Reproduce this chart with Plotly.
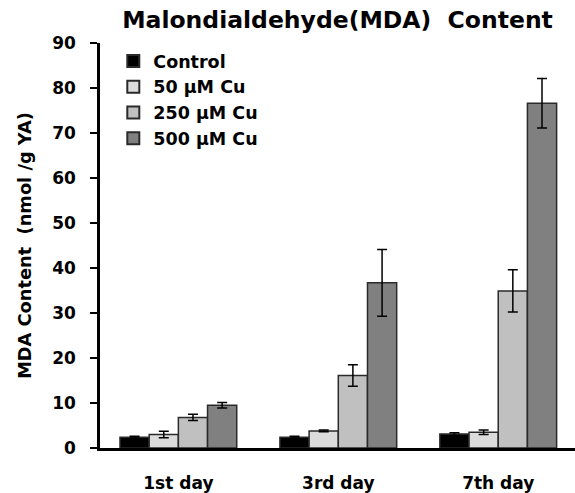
import plotly.graph_objects as go

categories = ["1st day", "3rd day", "7th day"]
series_names = ["Control", "50 µM Cu", "250 µM Cu", "500 µM Cu"]
control = [2.4, 2.4, 3.1]
cu50 = [3.0, 3.8, 3.5]
cu250 = [6.8, 16.1, 34.9]
cu500 = [9.5, 36.7, 76.6]
control_err = [0.2, 0.2, 0.3]
cu50_err = [0.7, 0.2, 0.5]
cu250_err = [0.7, 2.4, 4.7]
cu500_err = [0.6, 7.4, 5.5]
y_ticks = [0, 10, 20, 30, 40, 50, 60, 70, 80, 90]

colors = ["#000000", "#dcdcdc", "#c0c0c0", "#808080"]
values = [control, cu50, cu250, cu500]
errors = [control_err, cu50_err, cu250_err, cu500_err]

FONT = "DejaVu Sans"

fig = go.Figure()
for name, vals, errs, col in zip(series_names, values, errors, colors):
    fig.add_trace(go.Bar(
        name=name, x=categories, y=vals,
        marker=dict(color=col, line=dict(color="#2a2a2a", width=1.5)),
        error_y=dict(type="data", array=errs, visible=True,
                     color="#000000", thickness=1.5, width=5),
    ))

fig.update_layout(
    width=575, height=493,
    margin=dict(l=100, r=0, t=43, b=43),
    paper_bgcolor="white", plot_bgcolor="white",
    barmode="group", bargap=0.27, bargroupgap=0,
    font=dict(family=FONT, size=16, color="#000000", weight="bold"),
    title=dict(text="Malondialdehyde(MDA)  Content", x=0.5, xref="paper",
               xanchor="center", y=1 - 20 / 493, yref="container",
               yanchor="middle",
               font=dict(family=FONT, size=23.5, weight="bold", color="#000000")),
    showlegend=True,
    legend=dict(x=0.028, y=1.0, xanchor="left", yanchor="top",
                bgcolor="rgba(0,0,0,0)", borderwidth=0,
                font=dict(family=FONT, size=17.5, weight="bold"),
                itemsizing="constant", tracegroupgap=0),
)
fig.update_xaxes(
    range=[-0.49, 2.48], showline=True, linecolor="#000000", linewidth=2.5,
    ticks="", showgrid=False, zeroline=False, ticklabelstandoff=18,
    tickfont=dict(family=FONT, size=17, weight="bold"),
)
fig.update_yaxes(
    range=[0, 90], tickvals=y_ticks, showline=True, linecolor="#000000",
    linewidth=2.5, ticks="outside", ticklen=7, tickwidth=2, tickcolor="#000000",
    showgrid=False, zeroline=False, ticklabelstandoff=11,
    tickfont=dict(family=FONT, size=17, weight="bold"),
    title=dict(text="MDA Content  (nmol /g YA)", standoff=16,
               font=dict(family=FONT, size=17.8, weight="bold")),
)

fig.write_html("out.html")
